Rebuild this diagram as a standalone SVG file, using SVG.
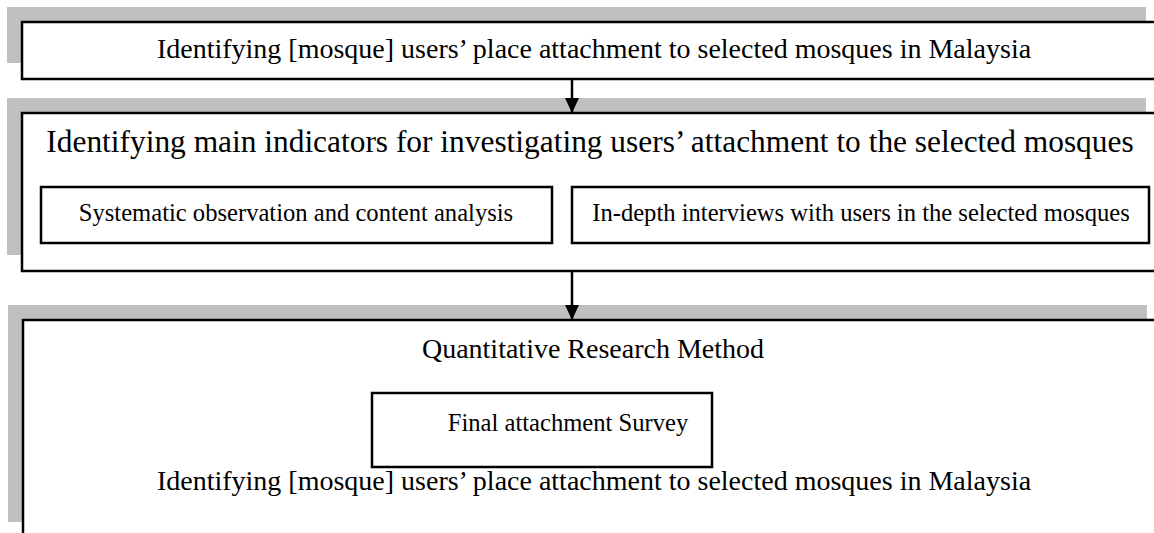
<svg xmlns="http://www.w3.org/2000/svg" width="1154" height="533" viewBox="0 0 1154 533">
<style>
.shadow{fill:#c0c0c0;stroke:none}
.box{fill:#ffffff;stroke:#000000;stroke-width:2.5}
.big{font-family:"Liberation Serif","Times New Roman",serif;font-size:28px;fill:#000000;text-anchor:middle}
.small{font-family:"Liberation Serif","Times New Roman",serif;font-size:24.6px;fill:#000000;text-anchor:middle}
.conn{stroke:#000000;stroke-width:2.5;fill:none}
</style>
<defs>
<marker id="arrow" markerWidth="15" markerHeight="14" refX="15" refY="7" orient="auto" markerUnits="userSpaceOnUse">
<path d="M0,0 L15,7 L0,14 Z" fill="#000000"/>
</marker>
</defs>
<rect width="1154" height="533" fill="#ffffff"/>
<g id="node-box1">
<rect class="shadow" x="7" y="7" width="1139" height="56"/>
<rect class="box" x="22" y="22" width="1150" height="57"/>
<text class="big" x="594" y="58">Identifying [mosque] users’ place attachment to selected mosques in Malaysia</text>
</g>
<g id="node-box2">
<rect class="shadow" x="7" y="98" width="1139" height="157"/>
<rect class="box" x="22" y="113" width="1150" height="158"/>
<text class="big" x="590" y="152" style="font-size:31.4px">Identifying main indicators for investigating users’ attachment to the selected mosques</text>
</g>
<g id="node-observation">
<rect class="box" x="41" y="187" width="511" height="56"/>
<text class="small" x="296" y="221">Systematic observation and content analysis</text>
</g>
<g id="node-interviews">
<rect class="box" x="572" y="187" width="577" height="56"/>
<text class="small" x="861" y="221">In-depth interviews with users in the selected mosques</text>
</g>
<g id="node-box3">
<rect class="shadow" x="8" y="305" width="1139" height="217"/>
<rect class="box" x="23" y="320" width="1150" height="240"/>
<text class="big" x="593" y="358">Quantitative Research Method</text>
<text class="big" x="594" y="490">Identifying [mosque] users’ place attachment to selected mosques in Malaysia</text>
</g>
<g id="node-survey">
<rect class="box" x="372" y="393" width="340" height="74"/>
<text class="small" x="568" y="431">Final attachment Survey</text>
</g>
<g id="connectors">
<line class="conn" x1="572" y1="79" x2="572" y2="113" marker-end="url(#arrow)"/>
<line class="conn" x1="572" y1="271" x2="572" y2="320" marker-end="url(#arrow)"/>
</g>
</svg>
